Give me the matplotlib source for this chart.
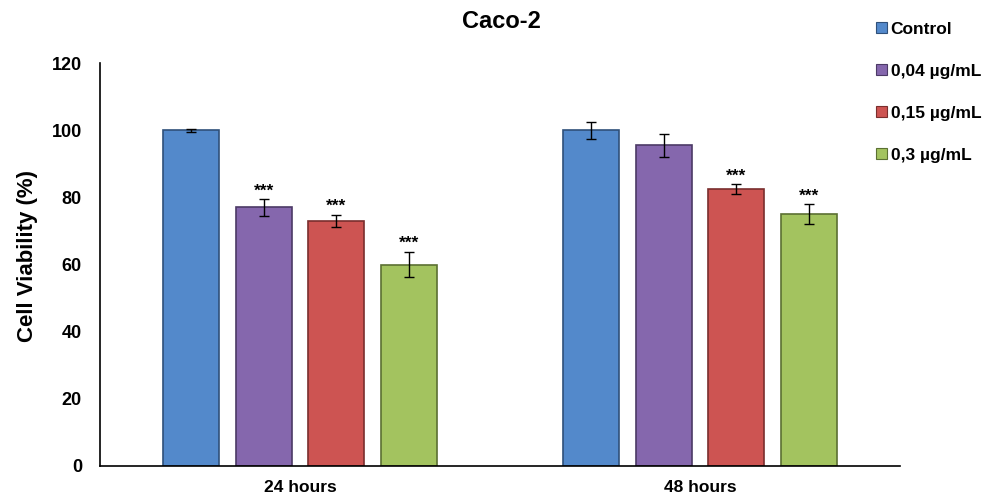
import matplotlib
matplotlib.use('Agg')
import matplotlib.pyplot as plt
import numpy as np

plt.rcParams['font.family'] = ['Liberation Sans', 'DejaVu Sans']

groups = ['24 hours', '48 hours']
series = ['Control', '0,04 µg/mL', '0,15 µg/mL', '0,3 µg/mL']
values = [[100, 77, 73, 60],
          [100, 95.5, 82.5, 75]]
errors = [[0.5, 2.5, 1.8, 3.8],
          [2.5, 3.5, 1.5, 3.0]]
stars = [['', '***', '***', '***'],
         ['', '', '***', '***']]

COLORS = ['#5389cb', '#8567ad', '#cd5452', '#a3c35f']
EDGES = ['#2f507a', '#4c3a66', '#7a2e2d', '#5b7032']

fig = plt.figure(figsize=(9.82, 4.97), dpi=100)
ax = fig.add_axes([0.1018, 0.0624, 0.8147, 0.8106])

w = 0.14
step = 0.181
centers = np.array([0.5, 1.5])
for i, name in enumerate(series):
    xs = centers + (i - 1.5) * step
    v = [values[g][i] for g in range(len(groups))]
    e = [errors[g][i] for g in range(len(groups))]
    ax.bar(xs, v, width=w, color=COLORS[i], edgecolor=EDGES[i], lw=1.2,
           label=name, zorder=2)
    ax.errorbar(xs, v, yerr=e, fmt='none', ecolor='black', elinewidth=1,
                capsize=3.5, capthick=1, zorder=3)
    for g in range(len(groups)):
        if stars[g][i]:
            ax.text(xs[g], v[g] + e[g] + 0.2, stars[g][i], ha='center',
                    va='bottom', fontsize=12.5, fontweight='bold')

ax.set_xlim(0, 2)
ax.set_ylim(0, 120)
ax.set_xticks(centers)
ax.set_xticklabels(groups, fontsize=12.5, fontweight='bold')
ax.set_yticks(range(0, 121, 20))
ax.set_yticklabels([str(t) for t in range(0, 121, 20)], fontsize=13, fontweight='bold')
ax.tick_params(axis='y', length=0, pad=13)
ax.tick_params(axis='x', length=0, pad=10)
for s in ['top', 'right']:
    ax.spines[s].set_visible(False)
for s in ['left', 'bottom']:
    ax.spines[s].set_linewidth(1.2)
ax.set_ylabel('Cell Viability (%)', fontsize=16, fontweight='bold', va='center')
ax.yaxis.set_label_coords(-0.09, 0.52)

fig.text(0.511, 0.956, 'Caco-2', ha='center', va='center', fontsize=17,
         fontweight='bold')

leg = fig.legend(loc='upper left', bbox_to_anchor=(0.876, 0.988), frameon=False,
                 handlelength=0.63, handleheight=0.63, handletextpad=0.22,
                 labelspacing=1.56, prop={'size': 12.5, 'weight': 'bold'})
for h in leg.legend_handles:
    h.set_linewidth(0.8)

fig.savefig('out.png', dpi=100)
